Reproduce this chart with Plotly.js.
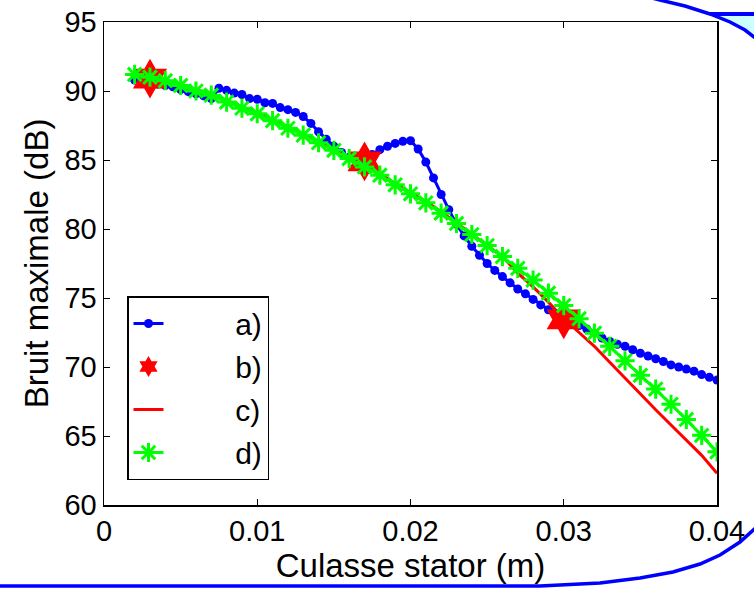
<!DOCTYPE html>
<html>
<head>
<meta charset="utf-8">
<script src="https://cdn.plot.ly/plotly-3.0.1.min.js"></script>
<style>html,body{margin:0;padding:0;background:#fff;}#chart{width:754px;height:589px;}</style>
</head>
<body>
<div id="chart"></div>
<script>
// a) blue circles, step 0.0005
const xA = [];
for (let i = 0; i <= 76; i++) xA.push(+(0.002 + i * 0.0005).toFixed(4));
const yA = [90.8, 90.7, 90.6, 90.5, 90.4, 90.3, 90.1, 89.95, 89.8, 89.65, 89.45,
  90.2, 90.05, 89.85, 89.75, 89.45, 89.4, 89.15, 89.1, 88.8, 88.65, 88.45, 88.15,
  87.65, 87.05, 86.5, 86.0, 85.55, 85.2, 84.8, 84.9, 85.4, 85.75, 86.0, 86.2,
  86.35, 86.4, 85.8, 84.85, 83.7, 82.5, 81.4, 80.35, 79.5, 78.75, 78.1, 77.5,
  77.0, 76.55, 76.1, 75.65, 75.3, 74.9, 74.5, 74.15, 73.8, 73.5, 73.25, 73.0,
  72.75, 72.45, 72.1, 71.85, 71.65, 71.5, 71.25, 71.0, 70.8, 70.6, 70.4, 70.15,
  70.0, 69.85, 69.7, 69.45, 69.25, 69.05];

// b) red stars
const xB = [0.003, 0.017, 0.030];
const yB = [90.9, 84.9, 73.45];

// c) red line, step 0.001
const xC = [];
for (let i = 0; i <= 38; i++) xC.push(+(0.002 + i * 0.001).toFixed(3));
const yC = [91.25, 91.05, 90.8, 90.5, 90.1, 89.8, 89.3, 88.85, 88.45, 87.95,
  87.4, 86.9, 86.35, 85.8, 85.2, 84.6, 84.0, 83.3, 82.65, 82.0, 81.25, 80.45,
  79.65, 78.85, 78.0, 76.8, 75.8, 74.7, 73.5, 72.5, 71.5, 70.35, 69.2, 68.0,
  66.9, 65.8, 64.7, 63.6, 62.3];

// d) green asterisks, step 0.001
const xD = xC.slice();
const yD = [91.2, 91.0, 90.75, 90.4, 90.0, 89.7, 89.2, 88.75, 88.35, 87.85,
  87.3, 86.8, 86.25, 85.7, 85.1, 84.5, 83.9, 83.2, 82.55, 81.9, 81.15, 80.4,
  79.6, 78.8, 78.0, 77.15, 76.3, 75.35, 74.45, 73.5, 72.45, 71.5, 70.45, 69.4,
  68.4, 67.3, 66.2, 65.05, 63.85];

const names = ['a)', 'b)', 'c)', 'd)'];
const xTicks = [0, 0.01, 0.02, 0.03, 0.04];
const xTickText = ['0', '0.01', '0.02', '0.03', '0.04'];
const yTicks = [60, 65, 70, 75, 80, 85, 90, 95];

const FONT = 'Liberation Sans, Arial, Helvetica, sans-serif';
const PAD = '\u00a0'.repeat(8);

const traces = [
  {x: xA, y: yA, name: PAD + names[0], legendrank: 1, legendgroup: 'a', mode: 'lines+markers',
   line: {color: '#0000ff', width: 3}, marker: {symbol: 'circle', size: 9, color: '#0000ff'}},
  {x: xC, y: yC, name: PAD + names[2], legendrank: 3, legendgroup: 'c', mode: 'lines',
   line: {color: '#ff0000', width: 3}},
  {x: xB, y: yB, name: PAD + names[1], legendrank: 2, legendgroup: 'b', mode: 'markers',
   marker: {symbol: 'hexagram', size: 30, color: '#ff0000', line: {width: 0}}},
  {x: xD, y: yD, name: PAD + names[3], legendrank: 4, legendgroup: 'd', mode: 'lines+markers',
   line: {color: '#00ff00', width: 3},
   marker: {symbol: 'asterisk-open', size: 16, color: '#00ff00', line: {color: '#00ff00', width: 3}}}
];

function px(v) { return (v - 104) / 613; }
function py(v) { return (505 - v) / 483; }
function P(pts) { return pts.map((p, i) => (i ? 'L' : 'M') + px(p[0]).toFixed(4) + ',' + py(p[1]).toFixed(4)).join(' '); }

const arcPts = [[648, -3], [660, 0], [685, 6], [710, 14], [730, 22], [745, 30], [758, 40]];
const cyanPts = [[710, 14], [760, 14], [760, 41], [745, 30], [730, 22], [710, 14]];
const bottomPts = [[-5, 586], [540, 586], [600, 583], [640, 578], [673, 572], [700, 564], [720, 555], [740, 542], [760, 524]];

const layout = {
  width: 754, height: 589,
  margin: {l: 104, r: 37, t: 22, b: 84},
  paper_bgcolor: '#ffffff', plot_bgcolor: '#ffffff',
  font: {family: FONT, size: 30, color: '#000'},
  showlegend: true,
  legend: {x: px(127), y: py(296), xanchor: 'left', yanchor: 'top',
    bgcolor: '#ffffff', bordercolor: '#000', borderwidth: 1.5,
    font: {family: FONT, size: 30, color: '#000'}, tracegroupgap: 1},
  xaxis: {range: [0, 0.04], tickvals: xTicks, ticktext: xTickText, ticks: 'inside', ticklen: 6,
    tickwidth: 1, tickcolor: '#000', showline: true, linecolor: '#000', linewidth: 1.5,
    mirror: 'allticks', showgrid: false, zeroline: false,
    tickfont: {family: FONT, size: 29, color: '#000'},
    title: {text: 'Culasse stator (m)', font: {family: FONT, size: 33, color: '#000'}, standoff: 4}},
  yaxis: {range: [60, 95], tickvals: yTicks, ticks: 'inside', ticklen: 6,
    tickwidth: 1, tickcolor: '#000', showline: true, linecolor: '#000', linewidth: 1.5,
    mirror: 'allticks', showgrid: false, zeroline: false,
    tickfont: {family: FONT, size: 29, color: '#000'},
    title: {text: 'Bruit maximale (dB)', font: {family: FONT, size: 33, color: '#000'}, standoff: 6}},
  shapes: [
    {type: 'path', xref: 'paper', yref: 'paper', path: P(cyanPts) + ' Z', fillcolor: '#ccffff', line: {width: 0}, layer: 'below'},
    {type: 'path', xref: 'paper', yref: 'paper', path: P(arcPts), line: {color: '#0000ff', width: 3.5}},
    {type: 'line', xref: 'paper', yref: 'paper', x0: px(710), x1: px(760), y0: py(14), y1: py(14), line: {color: '#0000ff', width: 4}},
    {type: 'path', xref: 'paper', yref: 'paper', path: P(bottomPts), line: {color: '#0000ff', width: 3.5}}
  ]
};

Plotly.newPlot('chart', traces, layout, {staticPlot: true, displayModeBar: false});
</script>
</body>
</html>
